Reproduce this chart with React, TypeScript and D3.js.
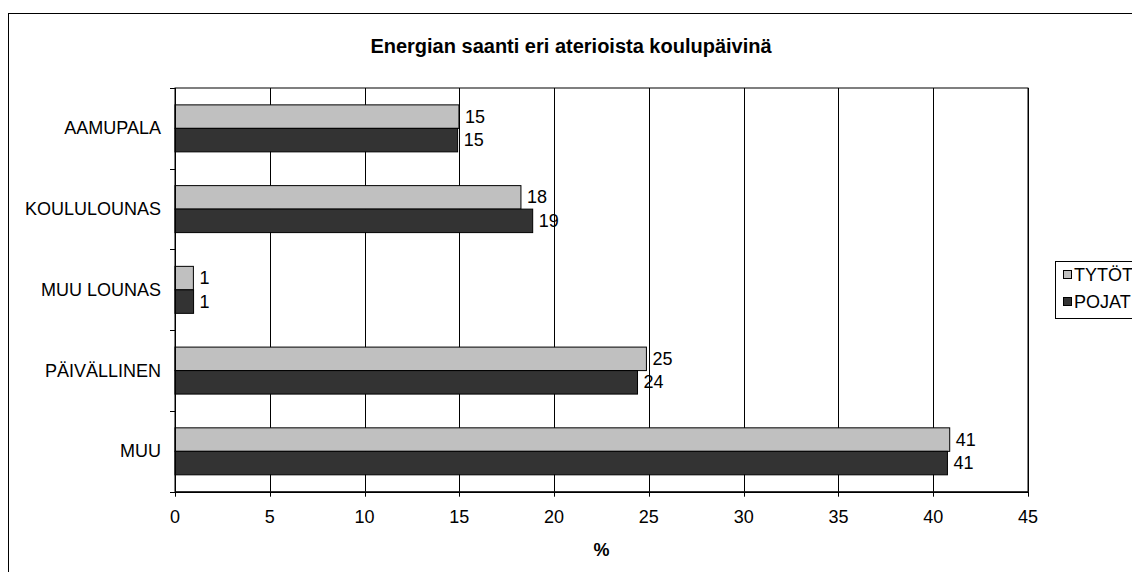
import React from "react";
import * as d3 from "d3";

const categories = ["AAMUPALA", "KOULULOUNAS", "MUU LOUNAS", "PÄIVÄLLINEN", "MUU"];
const seriesNames = ["TYTÖT", "POJAT"];
const tytot = [14.98, 18.25, 0.97, 24.87, 40.87];
const pojat = [14.91, 18.87, 0.98, 24.4, 40.75];
const xTicks = [0, 5, 10, 15, 20, 25, 30, 35, 40, 45];
const title = "Energian saanti eri aterioista koulupäivinä";
const xTitle = "%";

const W = 1132;
const H = 572;
const colors = ["#C0C0C0", "#333333"];
const FONT = "'Liberation Sans', Arial, sans-serif";
const FS = 18;

export default function App() {
  const left = 175, right = 1028, top = 88, bottom = 491.7;
  const x = d3.scaleLinear().domain([0, 45]).range([left, right]);
  const y = d3.scaleBand<string>().domain(categories).range([top, bottom]).paddingInner(0.418).paddingOuter(0.209);
  const ys = d3.scaleBand<string>().domain(seriesNames).range([0, y.bandwidth()]);
  const series = [tytot, pojat];
  const fmt = d3.format(".0f");
  const step = y.step();
  const boundaries = d3.range(categories.length + 1).map((i) => top + i * step);

  return (
    <svg width={W} height={H} style={{ position: "absolute", left: 0, top: 0, display: "block", background: "#fff" }} fontFamily={FONT}>
      <rect x={0} y={0} width={W} height={H} fill="#fff" />
      <rect x={8.5} y={13.5} width={1200} height={700} fill="none" stroke="#000" strokeWidth={1} />
      <text x={571} y={46} textAnchor="middle" dominantBaseline="central" fontSize={20} fontWeight="bold">{title}</text>

      {/* plot area border */}
      <rect x={left} y={top} width={right - left} height={bottom - top} fill="#fff" stroke="#000" strokeWidth={1} />
      {xTicks.map((t) => (
        <line key={"g" + t} x1={Math.round(x(t)) + 0.5} x2={Math.round(x(t)) + 0.5} y1={top} y2={bottom} stroke="#000" strokeWidth={1} />
      ))}

      {/* bars */}
      {series.map((vals, si) =>
        categories.map((c, ci) => {
          const by = (y(c) as number) + (ys(seriesNames[si]) as number);
          return (
            <g key={si + "-" + ci}>
              <rect x={x(0)} y={by} width={x(vals[ci]) - x(0)} height={ys.bandwidth()} fill={colors[si]} stroke="#000" strokeWidth={1} />
              <text x={x(vals[ci]) + 6} y={by + ys.bandwidth() / 2} dominantBaseline="central" fontSize={FS}>{fmt(vals[ci])}</text>
            </g>
          );
        })
      )}

      {/* y axis */}
      <line x1={left + 0.5} x2={left + 0.5} y1={top} y2={bottom} stroke="#000" />
      {boundaries.map((b, i) => (
        <line key={"yt" + i} x1={left - 5} x2={left} y1={Math.round(b) + 0.5} y2={Math.round(b) + 0.5} stroke="#000" />
      ))}
      {categories.map((c) => (
        <text key={c} x={161} y={(y(c) as number) + y.bandwidth() / 2} textAnchor="end" dominantBaseline="central" fontSize={FS}>{c}</text>
      ))}

      {/* x axis */}
      <line x1={left} x2={right} y1={Math.round(bottom) + 0.5} y2={Math.round(bottom) + 0.5} stroke="#000" />
      {xTicks.map((t) => (
        <g key={"xt" + t}>
          <line x1={Math.round(x(t)) + 0.5} x2={Math.round(x(t)) + 0.5} y1={bottom} y2={bottom + 5} stroke="#000" />
          <text x={x(t)} y={517} textAnchor="middle" dominantBaseline="central" fontSize={FS}>{t}</text>
        </g>
      ))}
      <text x={(left + right) / 2} y={550} textAnchor="middle" dominantBaseline="central" fontSize={FS} fontWeight="bold">{xTitle}</text>

      {/* legend */}
      <rect x={1055.5} y={261.5} width={120} height={57} fill="#fff" stroke="#000" />
      {seriesNames.map((s, i) => (
        <g key={s}>
          <rect x={1063.5} y={270.5 + i * 27} width={8} height={8} fill={colors[i]} stroke="#000" />
          <text x={1074} y={275 + i * 27} dominantBaseline="central" fontSize={FS}>{s}</text>
        </g>
      ))}
    </svg>
  );
}
